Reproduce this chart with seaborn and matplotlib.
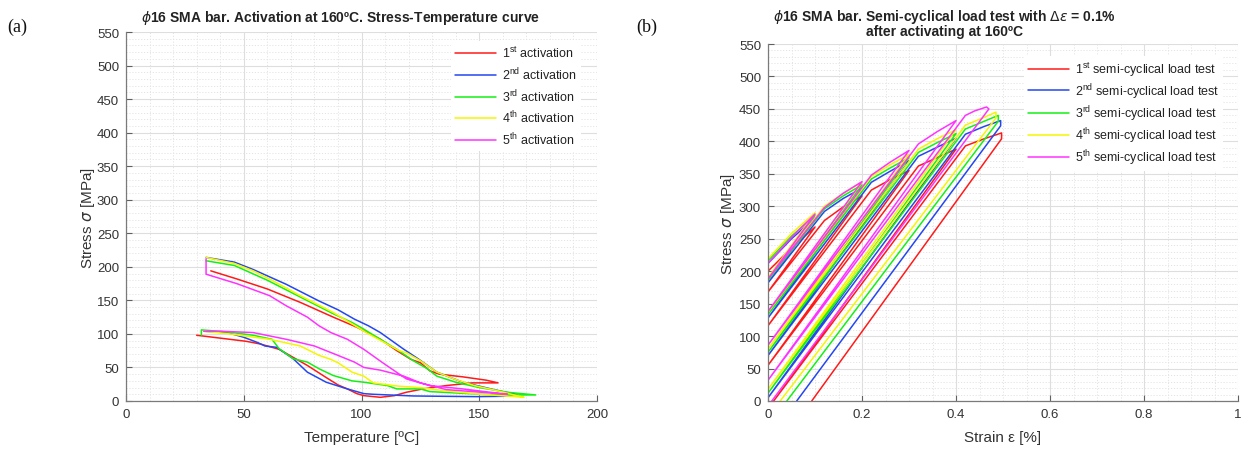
import matplotlib
matplotlib.use("Agg")
import matplotlib.pyplot as plt
import numpy as np
import pandas as pd
import seaborn as sns
from matplotlib.ticker import MultipleLocator, FuncFormatter

# ---------------- data: (a) activation loops, temperature [ºC] / stress [MPa]
a1_T = [30, 37, 44, 51, 57, 65, 71, 77, 85, 90, 94, 98, 101, 108, 114, 119, 126, 136, 147, 153, 158,
        153, 143, 133, 129, 125, 121, 115, 108, 98, 88, 74, 60, 47, 36]
a1_S = [98, 95, 92, 89, 85, 77, 65, 53, 35, 24, 18, 11, 8, 5.5, 8, 13, 18, 23, 27, 27, 27,
        31, 36, 40, 45, 57, 62, 75, 92, 110, 125, 147, 167, 182, 194]
a2_T = [33, 43, 50, 56, 59, 64, 71, 77, 85, 94, 101, 105, 122, 135, 149, 160, 166,
        160, 155, 143, 132, 124, 118, 108, 103, 97, 90, 82, 68, 54, 46, 34]
a2_S = [104, 102, 95, 87, 82, 80, 63, 43, 28, 18, 11, 10, 7.5, 7, 6.5, 7, 10,
        14, 18, 28, 43, 63, 77, 102, 112, 122, 136, 149, 174, 196, 207, 214]
a3_T = [32, 32, 43, 54, 62, 65, 71, 77, 82, 88, 96, 101, 111, 115, 125, 129, 140, 151, 162, 174,
        162, 150, 140, 132, 128, 122, 115, 108, 101, 96, 88, 74, 60, 46, 34]
a3_S = [98, 106, 103, 98, 92, 78, 63, 58, 48, 38, 30, 28, 23, 18, 18, 14, 12, 10, 9, 9,
        13, 20, 28, 37, 48, 60, 77, 92, 107, 117, 130, 155, 180, 202, 209]
a4_T = [33, 44, 61, 74, 82, 87, 90, 96, 101, 105, 116, 125, 136, 151, 169,
        166, 158, 148, 140, 132, 125, 119, 116, 102, 88, 74, 62, 54, 46, 34]
a4_S = [104, 100, 92, 82, 68, 62, 57, 43, 37, 27, 22, 20, 15, 10, 5.5,
        8, 15, 23, 32, 43, 60, 72, 75, 102, 132, 157, 180, 194, 205, 214]
a5_T = [33, 40, 54, 68, 80, 90, 97, 101, 108, 118, 125, 136, 151, 162,
        150, 143, 129, 119, 109, 101, 94, 87, 82, 77, 68, 61, 47, 34, 34]
a5_S = [104, 104, 102, 92, 82, 68, 58, 50, 46, 37, 27, 17, 13, 10,
        15, 18, 23, 33, 57, 77, 92, 102, 112, 125, 142, 157, 175, 189, 212]

# ---------------- data: (b) semi-cyclical load tests, strain [%] / stress [MPa]
r1_E = [0, 0.05, 0.1, 0, 0.12, 0.16, 0.2, 0, 0.22, 0.26, 0.3, 0, 0.32, 0.36, 0.4, 0.012,
        0.42, 0.46, 0.497, 0.497, 0.093]
r1_S = [200, 236, 268, 168, 278, 299, 316, 116, 325, 341, 355, 55, 362, 375, 388, 0,
        393, 404, 413, 404, 0]
r2_E = [0, 0.05, 0.1, 0, 0.12, 0.16, 0.2, 0, 0.22, 0.26, 0.3, 0, 0.32, 0.36, 0.4, 0,
        0.42, 0.46, 0.495, 0.495, 0.061]
r2_S = [212, 250, 282, 182, 292, 312, 328, 128, 337, 354, 370, 70, 377, 391, 405, 5,
        411, 423, 432, 424, 0]
r3_E = [0, 0.05, 0.1, 0, 0.12, 0.16, 0.2, 0, 0.22, 0.26, 0.3, 0, 0.32, 0.36, 0.4, 0,
        0.42, 0.46, 0.49, 0.49, 0.04]
r3_S = [216, 254, 286, 186, 296, 316, 333, 133, 342, 359, 375, 75, 383, 398, 412, 12,
        419, 431, 440, 431, 0]
r4_E = [0, 0.05, 0.1, 0, 0.12, 0.16, 0.2, 0, 0.22, 0.26, 0.3, 0, 0.32, 0.36, 0.4, 0,
        0.42, 0.46, 0.485, 0.485, 0.026]
r4_S = [219, 258, 290, 190, 300, 320, 337, 137, 346, 364, 380, 80, 388, 404, 418, 18,
        425, 437, 445, 436, 0]
r5_E = [0, 0.05, 0.1, 0, 0.12, 0.16, 0.2, 0, 0.22, 0.26, 0.3, 0, 0.32, 0.36, 0.4, 0,
        0.42, 0.44, 0.465, 0.47, 0.008]
r5_S = [212, 252, 288, 188, 298, 320, 338, 138, 348, 368, 386, 86, 396, 415, 432, 32,
        440, 447, 453, 450, 0]

act_labels = [r"1$^{\mathregular{st}}$ activation", r"2$^{\mathregular{nd}}$ activation",
              r"3$^{\mathregular{rd}}$ activation", r"4$^{\mathregular{th}}$ activation",
              r"5$^{\mathregular{th}}$ activation"]
test_labels = [r"1$^{\mathregular{st}}$ semi-cyclical load test", r"2$^{\mathregular{nd}}$ semi-cyclical load test",
               r"3$^{\mathregular{rd}}$ semi-cyclical load test", r"4$^{\mathregular{th}}$ semi-cyclical load test",
               r"5$^{\mathregular{th}}$ semi-cyclical load test"]
colors = ["#ff1a1a", "#2447f0", "#14f014", "#f5f500", "#ff33ff"]

x_ticks_a = [0, 50, 100, 150, 200]
x_ticks_b = [0, 0.2, 0.4, 0.6, 0.8, 1]
y_ticks = list(range(0, 551, 50))

# ---------------- style
sns.set_theme(style="white")
plt.rcParams["font.family"] = ["Liberation Sans", "DejaVu Sans"]
plt.rcParams["mathtext.fontset"] = "dejavusans"

fig = plt.figure(figsize=(12.53, 4.52), dpi=100)
axL = fig.add_axes([126 / 1253, 50 / 452, 471 / 1253, 369 / 452])
axR = fig.add_axes([768 / 1253, 50 / 452, 470 / 1253, 357 / 452])


def build(xs, ys, labels, xname, yname):
    rows = []
    for k, (xv, yv, lab) in enumerate(zip(xs, ys, labels)):
        for i, (a, b) in enumerate(zip(xv, yv)):
            rows.append({xname: a, yname: b, "label": lab, "unit": k, "order": i})
    return pd.DataFrame(rows)


dfA = build([a1_T, a2_T, a3_T, a4_T, a5_T], [a1_S, a2_S, a3_S, a4_S, a5_S], act_labels, "T", "S")
dfB = build([r1_E, r2_E, r3_E, r4_E, r5_E], [r1_S, r2_S, r3_S, r4_S, r5_S], test_labels, "E", "S")

sns.lineplot(data=dfA, x="T", y="S", hue="label", units="unit", estimator=None, sort=False,
             palette=dict(zip(act_labels, colors)), hue_order=act_labels, linewidth=1.1, ax=axL)
sns.lineplot(data=dfB, x="E", y="S", hue="label", units="unit", estimator=None, sort=False,
             palette=dict(zip(test_labels, colors)), hue_order=test_labels, linewidth=1.1, ax=axR)


def style(ax, xticks, xminor, xlim):
    ax.set_xlim(*xlim)
    ax.set_ylim(0, 550)
    ax.set_xticks(xticks)
    ax.set_yticks(y_ticks)
    ax.xaxis.set_minor_locator(MultipleLocator(xminor))
    ax.yaxis.set_minor_locator(MultipleLocator(10))
    ax.xaxis.set_major_formatter(FuncFormatter(lambda v, p: f"{v:g}"))
    ax.grid(which="major", color="#dedede", lw=0.8, ls="-")
    ax.grid(which="minor", color="#e4e4e4", lw=0.7, ls=(0, (1.2, 1.8)))
    ax.set_axisbelow(True)
    for s in ["top", "right"]:
        ax.spines[s].set_visible(False)
    for s in ["left", "bottom"]:
        ax.spines[s].set_color("#7a7a7a")
        ax.spines[s].set_linewidth(0.9)
    ax.tick_params(which="major", direction="in", length=4, width=0.8, color="#606060",
                   labelsize=9.5, labelcolor="#333333", pad=5, bottom=True, left=True)
    ax.tick_params(which="minor", length=0)


style(axL, x_ticks_a, 10, (0, 200))
style(axR, x_ticks_b, 0.05, (0, 1))

axL.set_xlabel("Temperature [ºC]", fontsize=11, color="#333333", labelpad=7)
axR.set_xlabel("Strain ε [%]", fontsize=11, color="#333333", labelpad=7)
axL.set_ylabel(r"Stress $\sigma$ [MPa]", fontsize=11, color="#333333", labelpad=0)
axR.set_ylabel(r"Stress $\sigma$ [MPa]", fontsize=11, color="#333333", labelpad=1)

legL = axL.legend(loc="upper left", bbox_to_anchor=(0.69, 0.975), fontsize=9, frameon=True,
                  facecolor="white", edgecolor="none", framealpha=1, handlelength=3.3,
                  handletextpad=0.5, labelspacing=0.42, borderpad=0.3, borderaxespad=0)
legR = axR.legend(loc="upper left", bbox_to_anchor=(0.545, 0.965), fontsize=9, frameon=True,
                  facecolor="white", edgecolor="none", framealpha=1, handlelength=3.3,
                  handletextpad=0.5, labelspacing=0.2, borderpad=0.3, borderaxespad=0)
for leg in (legL, legR):
    for t in leg.get_texts():
        t.set_color("#222222")

fig.text(341 / 1253, 1 - 18 / 452, r"$\phi$16 SMA bar. Activation at 160ºC. Stress-Temperature curve",
         ha="center", va="center", fontsize=10, fontweight="bold", color="#222222")
fig.text(944 / 1253, 1 - 17 / 452, r"$\phi$16 SMA bar. Semi-cyclical load test with $\Delta\epsilon$ = 0.1%",
         ha="center", va="center", fontsize=10, fontweight="bold", color="#222222")
fig.text(944 / 1253, 1 - 32 / 452, "after activating at 160ºC",
         ha="center", va="center", fontsize=10, fontweight="bold", color="#222222")
fig.text(17 / 1253, 1 - 27 / 452, "(a)", ha="center", va="center", fontsize=13,
         family=["Liberation Serif", "DejaVu Serif"], color="#111111")
fig.text(647 / 1253, 1 - 27 / 452, "(b)", ha="center", va="center", fontsize=13,
         family=["Liberation Serif", "DejaVu Serif"], color="#111111")

fig.savefig("out.png", dpi=100, facecolor="white")
